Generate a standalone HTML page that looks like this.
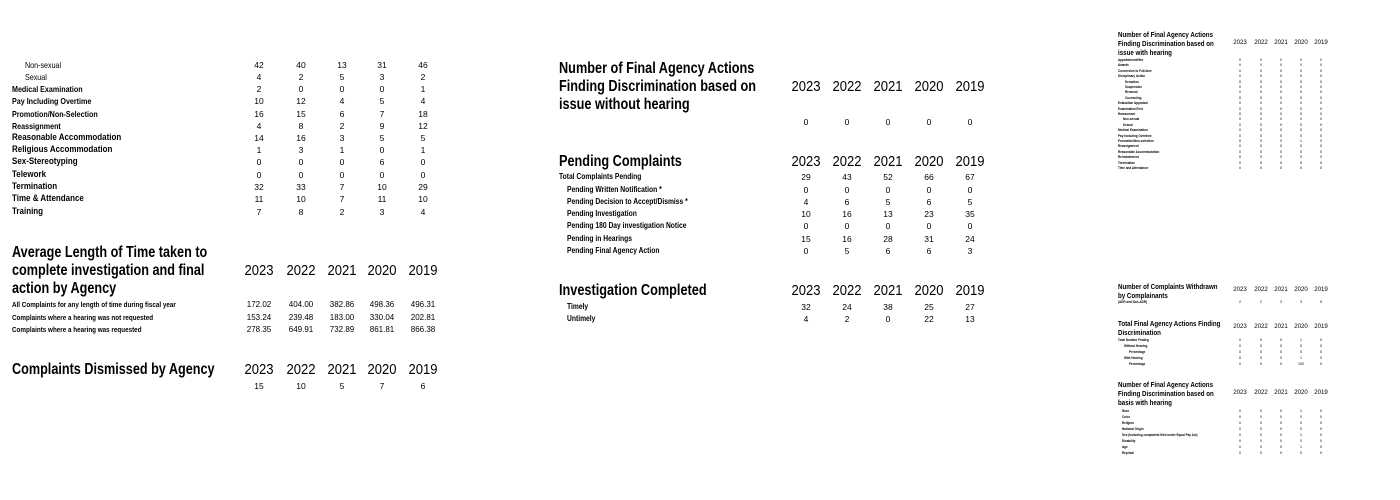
<!DOCTYPE html>
<html><head><meta charset="utf-8">
<style>
body{margin:0;background:#fff;width:1400px;height:500px;overflow:hidden;position:relative;font-family:"Liberation Sans",sans-serif;color:#000}
.r{position:absolute;left:0;white-space:nowrap}
.r>*{position:absolute;top:0;text-align:center}
.r>i{font-style:normal;text-align:left;transform:scaleX(.84);transform-origin:0 50%}
.h{position:absolute;font-weight:bold;white-space:nowrap;transform:scaleX(.79);transform-origin:0 0}
.hm{transform:scaleX(.82)}
.A{font-size:8.5px;line-height:12px;height:12px}
.A>i{font-weight:bold}
.A>span{width:40px}
.A>span:nth-child(2){left:239px}.A>span:nth-child(3){left:281px}.A>span:nth-child(4){left:322px}.A>span:nth-child(5){left:362px}.A>span:nth-child(6){left:403px}
.B{font-size:8.5px;line-height:12px;height:12px}
.B>i{font-weight:bold}
.B>span{width:40px}
.B>span:nth-child(2){left:786px}.B>span:nth-child(3){left:827px}.B>span:nth-child(4){left:868px}.B>span:nth-child(5){left:909px}.B>span:nth-child(6){left:950px}
.C{font-size:3.6px;line-height:6px;height:6px}
.C>i{font-weight:bold}
.C>span{width:20px}
.C>span:nth-child(2){left:1230px}.C>span:nth-child(3){left:1251px}.C>span:nth-child(4){left:1271px}.C>span:nth-child(5){left:1291px}.C>span:nth-child(6){left:1311px}
.Y{font-size:14.5px;line-height:18px;height:18px}
.Y>span{width:40px;transform:scaleX(.9)}
.YC{font-size:6.8px;line-height:8px;height:8px}
.YC>span{transform:scaleX(.9)}
</style></head><body>

<!-- LEFT -->
<div class="r A" style="top:59px"><i style="left:25px;font-weight:normal">Non-sexual</i><span>42</span><span>40</span><span>13</span><span>31</span><span>46</span></div>
<div class="r A" style="top:71px"><i style="left:25px;font-weight:normal">Sexual</i><span>4</span><span>2</span><span>5</span><span>3</span><span>2</span></div>
<div class="r A" style="top:83px"><i style="left:12px">Medical Examination</i><span>2</span><span>0</span><span>0</span><span>0</span><span>1</span></div>
<div class="r A" style="top:95px"><i style="left:12px">Pay Including Overtime</i><span>10</span><span>12</span><span>4</span><span>5</span><span>4</span></div>
<div class="r A" style="top:108px"><i style="left:12px">Promotion/Non-Selection</i><span>16</span><span>15</span><span>6</span><span>7</span><span>18</span></div>
<div class="r A" style="top:120px"><i style="left:12px">Reassignment</i><span>4</span><span>8</span><span>2</span><span>9</span><span>12</span></div>
<div class="r A" style="top:132px"><i style="left:12px;font-size:9.5px">Reasonable Accommodation</i><span>14</span><span>16</span><span>3</span><span>5</span><span>5</span></div>
<div class="r A" style="top:144px"><i style="left:12px;font-size:9.5px">Religious Accommodation</i><span>1</span><span>3</span><span>1</span><span>0</span><span>1</span></div>
<div class="r A" style="top:156px"><i style="left:12px;font-size:9.5px">Sex-Stereotyping</i><span>0</span><span>0</span><span>0</span><span>6</span><span>0</span></div>
<div class="r A" style="top:169px"><i style="left:12px;font-size:9.5px">Telework</i><span>0</span><span>0</span><span>0</span><span>0</span><span>0</span></div>
<div class="r A" style="top:181px"><i style="left:12px;font-size:9.5px">Termination</i><span>32</span><span>33</span><span>7</span><span>10</span><span>29</span></div>
<div class="r A" style="top:193px"><i style="left:12px;font-size:9.5px">Time &amp; Attendance</i><span>11</span><span>10</span><span>7</span><span>11</span><span>10</span></div>
<div class="r A" style="top:206px"><i style="left:12px;font-size:9.5px">Training</i><span>7</span><span>8</span><span>2</span><span>3</span><span>4</span></div>

<div class="h" style="left:12px;top:244px;font-size:16px;line-height:18px">Average Length of Time taken to<br>complete investigation and final<br>action by Agency</div>
<div class="r A Y" style="top:262px"><i></i><span>2023</span><span>2022</span><span>2021</span><span>2020</span><span>2019</span></div>
<div class="r A" style="top:299px;font-size:8px"><i style="left:12px;font-size:7.5px">All Complaints for any length of time during fiscal year</i><span>172.02</span><span>404.00</span><span>382.86</span><span>498.36</span><span>496.31</span></div>
<div class="r A" style="top:312px;font-size:8px"><i style="left:12px;font-size:7.5px">Complaints where a hearing was not requested</i><span>153.24</span><span>239.48</span><span>183.00</span><span>330.04</span><span>202.81</span></div>
<div class="r A" style="top:324px;font-size:8px"><i style="left:12px;font-size:7.5px">Complaints where a hearing was requested</i><span>278.35</span><span>649.91</span><span>732.89</span><span>861.81</span><span>866.38</span></div>

<div class="h" style="left:12px;top:361px;font-size:16px;line-height:18px">Complaints Dismissed by Agency</div>
<div class="r A Y" style="top:361px"><i></i><span>2023</span><span>2022</span><span>2021</span><span>2020</span><span>2019</span></div>
<div class="r A" style="top:380px"><i></i><span>15</span><span>10</span><span>5</span><span>7</span><span>6</span></div>

<!-- MIDDLE -->
<div class="h hm" style="left:559px;top:60px;font-size:15.5px;line-height:18px">Number of Final Agency Actions<br>Finding Discrimination based on<br>issue without hearing</div>
<div class="r B Y" style="top:78px"><i></i><span>2023</span><span>2022</span><span>2021</span><span>2020</span><span>2019</span></div>
<div class="r B" style="top:116px"><i></i><span>0</span><span>0</span><span>0</span><span>0</span><span>0</span></div>

<div class="h hm" style="left:559px;top:153px;font-size:15.5px;line-height:18px">Pending Complaints</div>
<div class="r B Y" style="top:153px"><i></i><span>2023</span><span>2022</span><span>2021</span><span>2020</span><span>2019</span></div>
<div class="r B" style="top:171px"><i style="left:559px;font-size:8px">Total Complaints Pending</i><span>29</span><span>43</span><span>52</span><span>66</span><span>67</span></div>
<div class="r B" style="top:184px"><i style="left:567px;font-size:8px">Pending Written Notification *</i><span>0</span><span>0</span><span>0</span><span>0</span><span>0</span></div>
<div class="r B" style="top:196px"><i style="left:567px;font-size:8px">Pending Decision to Accept/Dismiss *</i><span>4</span><span>6</span><span>5</span><span>6</span><span>5</span></div>
<div class="r B" style="top:208px"><i style="left:567px;font-size:8px">Pending Investigation</i><span>10</span><span>16</span><span>13</span><span>23</span><span>35</span></div>
<div class="r B" style="top:220px"><i style="left:567px;font-size:8px">Pending 180 Day investigation Notice</i><span>0</span><span>0</span><span>0</span><span>0</span><span>0</span></div>
<div class="r B" style="top:233px"><i style="left:567px;font-size:8px">Pending in Hearings</i><span>15</span><span>16</span><span>28</span><span>31</span><span>24</span></div>
<div class="r B" style="top:245px"><i style="left:567px;font-size:8px">Pending Final Agency Action</i><span>0</span><span>5</span><span>6</span><span>6</span><span>3</span></div>

<div class="h hm" style="left:559px;top:282px;font-size:15.5px;line-height:18px">Investigation Completed</div>
<div class="r B Y" style="top:282px"><i></i><span>2023</span><span>2022</span><span>2021</span><span>2020</span><span>2019</span></div>
<div class="r B" style="top:301px"><i style="left:567px;font-size:8px">Timely</i><span>32</span><span>24</span><span>38</span><span>25</span><span>27</span></div>
<div class="r B" style="top:313px"><i style="left:567px;font-size:8px">Untimely</i><span>4</span><span>2</span><span>0</span><span>22</span><span>13</span></div>

<!-- RIGHT -->
<div class="h" style="left:1118px;top:30px;font-size:7.2px;line-height:9px;transform:scaleX(.86)">Number of Final Agency Actions<br>Finding Discrimination based on<br>issue with hearing</div>
<div class="r C YC" style="top:39px"><i></i><span>2023</span><span>2022</span><span>2021</span><span>2020</span><span>2019</span></div>
<div class="r C" style="top:57px"><i style="left:1118px">Appointment/Hire</i><span>0</span><span>0</span><span>0</span><span>0</span><span>0</span></div>
<div class="r C" style="top:62.4px"><i style="left:1118px">Awards</i><span>0</span><span>0</span><span>0</span><span>0</span><span>0</span></div>
<div class="r C" style="top:67.8px"><i style="left:1118px">Conversion to Full-time</i><span>0</span><span>0</span><span>0</span><span>0</span><span>0</span></div>
<div class="r C" style="top:73.2px"><i style="left:1118px">Disciplinary Action</i><span>0</span><span>0</span><span>0</span><span>0</span><span>0</span></div>
<div class="r C" style="top:78.6px"><i style="left:1125px">Demotion</i><span>0</span><span>0</span><span>0</span><span>0</span><span>0</span></div>
<div class="r C" style="top:84px"><i style="left:1125px">Suspension</i><span>0</span><span>0</span><span>0</span><span>0</span><span>0</span></div>
<div class="r C" style="top:89.4px"><i style="left:1125px">Removal</i><span>0</span><span>0</span><span>0</span><span>0</span><span>0</span></div>
<div class="r C" style="top:94.8px"><i style="left:1125px">Counseling</i><span>0</span><span>0</span><span>0</span><span>0</span><span>0</span></div>
<div class="r C" style="top:100.2px"><i style="left:1118px">Evaluation Appraisal</i><span>0</span><span>0</span><span>0</span><span>0</span><span>0</span></div>
<div class="r C" style="top:105.6px"><i style="left:1118px">Examination/Test</i><span>0</span><span>0</span><span>0</span><span>0</span><span>0</span></div>
<div class="r C" style="top:111px"><i style="left:1118px">Harassment</i><span>0</span><span>0</span><span>0</span><span>0</span><span>0</span></div>
<div class="r C" style="top:116.4px"><i style="left:1123px">Non-sexual</i><span>0</span><span>0</span><span>0</span><span>0</span><span>0</span></div>
<div class="r C" style="top:121.8px"><i style="left:1123px">Sexual</i><span>0</span><span>0</span><span>0</span><span>0</span><span>0</span></div>
<div class="r C" style="top:127.2px"><i style="left:1118px">Medical Examination</i><span>0</span><span>0</span><span>0</span><span>0</span><span>0</span></div>
<div class="r C" style="top:132.6px"><i style="left:1118px">Pay Including Overtime</i><span>0</span><span>0</span><span>0</span><span>0</span><span>0</span></div>
<div class="r C" style="top:138px"><i style="left:1118px">Promotion/Non-selection</i><span>0</span><span>0</span><span>0</span><span>1</span><span>0</span></div>
<div class="r C" style="top:143.4px"><i style="left:1118px">Reassignment</i><span>0</span><span>0</span><span>0</span><span>0</span><span>0</span></div>
<div class="r C" style="top:148.8px"><i style="left:1118px">Reasonable Accommodation</i><span>0</span><span>0</span><span>0</span><span>0</span><span>0</span></div>
<div class="r C" style="top:154.2px"><i style="left:1118px">Reinstatement</i><span>0</span><span>0</span><span>0</span><span>0</span><span>0</span></div>
<div class="r C" style="top:159.6px"><i style="left:1118px">Termination</i><span>0</span><span>0</span><span>0</span><span>0</span><span>0</span></div>
<div class="r C" style="top:165px"><i style="left:1118px">Time and Attendance</i><span>0</span><span>0</span><span>0</span><span>0</span><span>0</span></div>

<div class="h" style="left:1118px;top:282px;font-size:7.2px;line-height:9px;transform:scaleX(.86)">Number of Complaints Withdrawn<br>by Complainants</div>
<div class="r C YC" style="top:286px"><i></i><span>2023</span><span>2022</span><span>2021</span><span>2020</span><span>2019</span></div>
<div class="r C" style="top:299px"><i style="left:1118px">(ADR and Non-ADR)</i><span>2</span><span>2</span><span>3</span><span>3</span><span>5</span></div>

<div class="h" style="left:1118px;top:319px;font-size:7.2px;line-height:9px;transform:scaleX(.86)">Total Final Agency Actions Finding<br>Discrimination</div>
<div class="r C YC" style="top:323px"><i></i><span>2023</span><span>2022</span><span>2021</span><span>2020</span><span>2019</span></div>
<div class="r C" style="top:337px"><i style="left:1118px">Total Number Finding</i><span>0</span><span>0</span><span>0</span><span>1</span><span>0</span></div>
<div class="r C" style="top:343px"><i style="left:1124px">Without Hearing</i><span>0</span><span>0</span><span>0</span><span>0</span><span>0</span></div>
<div class="r C" style="top:349px"><i style="left:1129px">Percentage</i><span>0</span><span>0</span><span>0</span><span>0</span><span>0</span></div>
<div class="r C" style="top:355px"><i style="left:1124px">With Hearing</i><span>0</span><span>0</span><span>0</span><span>1</span><span>0</span></div>
<div class="r C" style="top:361px"><i style="left:1129px">Percentage</i><span>0</span><span>0</span><span>0</span><span>100</span><span>0</span></div>

<div class="h" style="left:1118px;top:380px;font-size:7.2px;line-height:9px;transform:scaleX(.86)">Number of Final Agency Actions<br>Finding Discrimination based on<br>basis with hearing</div>
<div class="r C YC" style="top:389px"><i></i><span>2023</span><span>2022</span><span>2021</span><span>2020</span><span>2019</span></div>
<div class="r C" style="top:408px"><i style="left:1122px">Race</i><span>0</span><span>0</span><span>0</span><span>1</span><span>0</span></div>
<div class="r C" style="top:414px"><i style="left:1122px">Color</i><span>0</span><span>0</span><span>0</span><span>0</span><span>0</span></div>
<div class="r C" style="top:420px"><i style="left:1122px">Religion</i><span>0</span><span>0</span><span>0</span><span>0</span><span>0</span></div>
<div class="r C" style="top:426px"><i style="left:1122px">National Origin</i><span>0</span><span>0</span><span>0</span><span>0</span><span>0</span></div>
<div class="r C" style="top:432px"><i style="left:1122px">Sex (including complaints filed under Equal Pay Act)</i><span>0</span><span>0</span><span>0</span><span>1</span><span>0</span></div>
<div class="r C" style="top:438px"><i style="left:1122px">Disability</i><span>0</span><span>0</span><span>0</span><span>0</span><span>0</span></div>
<div class="r C" style="top:444px"><i style="left:1122px">Age</i><span>0</span><span>0</span><span>0</span><span>1</span><span>0</span></div>
<div class="r C" style="top:450px"><i style="left:1122px">Reprisal</i><span>0</span><span>0</span><span>0</span><span>0</span><span>0</span></div>

</body></html>
